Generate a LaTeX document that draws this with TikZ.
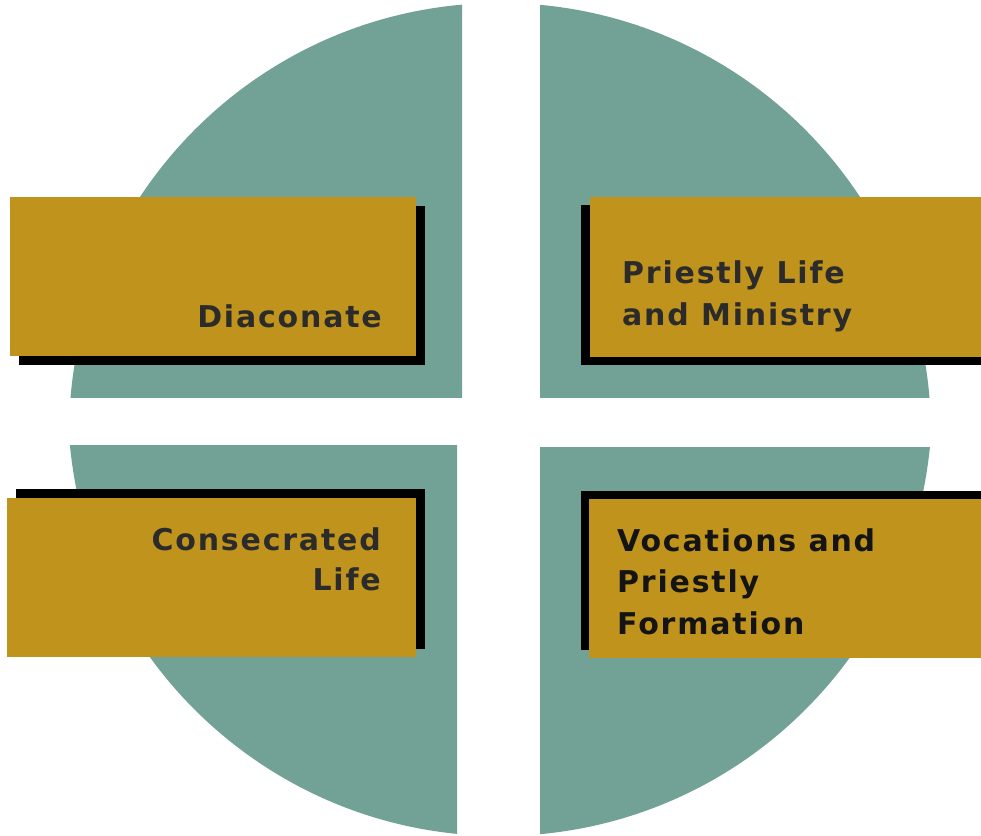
\documentclass[tikz,border=0pt]{standalone}
\usepackage{fontspec}
\newfontfamily\labfont{DejaVu Sans}[LetterSpace=6]
\definecolor{teal1}{HTML}{72A196}
\definecolor{gold1}{HTML}{C0931C}
\definecolor{ink1}{HTML}{2B2B2B}
\definecolor{ink2}{HTML}{141414}
\tikzset{
  quad/.style={fill=teal1},
  goldbox/.style={fill=gold1},
  shadowbox/.style={fill=black},
  lab/.style={inner sep=0pt, font=\labfont\bfseries\fontsize{30}{42}\selectfont, text=ink1},
  labdark/.style={lab, text=ink2}
}
\begin{document}
\begin{tikzpicture}[x=1pt,y=-1pt]
\useasboundingbox (0,0) rectangle (981,835);
% quadrants
\begin{scope}
  \clip (0,0) rectangle (462,397);
  \fill[quad] (500,434) circle[radius=431pt];
\end{scope}
\begin{scope}
  \clip (540,0) rectangle (981,397);
  \fill[quad] (500,434) circle[radius=431pt];
\end{scope}
\begin{scope}
  \clip (0,445) rectangle (457,835);
  \fill[quad] (500,404) circle[radius=432pt];
\end{scope}
\begin{scope}
  \clip (540,447) rectangle (981,835);
  \fill[quad] (500,404) circle[radius=432pt];
\end{scope}
% boxes
\fill[shadowbox] (19,206) rectangle (425,365);
\fill[goldbox] (10,197) rectangle (416,356);
\fill[shadowbox] (581,205) rectangle (981,365);
\fill[goldbox] (590,197) rectangle (981,357);
\fill[shadowbox] (16,489) rectangle (425,649);
\fill[goldbox] (7,498) rectangle (416,657);
\fill[shadowbox] (581,491) rectangle (981,650);
\fill[goldbox] (589,499) rectangle (981,658);
% labels
\node[lab, anchor=base east] (dia) at (382,327) {Diaconate};
\node[lab, anchor=base west] (pl1) at (622,283) {Priestly Life};
\node[lab, anchor=base west] (pl2) at (622,325) {and Ministry};
\node[lab, anchor=base east] (cl1) at (381,550) {Consecrated};
\node[lab, anchor=base east] (cl2) at (381,590) {Life};
\node[labdark, anchor=base west] (vf1) at (617,551) {Vocations and};
\node[labdark, anchor=base west] (vf2) at (617,592) {Priestly};
\node[labdark, anchor=base west] (vf3) at (617,634) {Formation};
\end{tikzpicture}
\end{document}
